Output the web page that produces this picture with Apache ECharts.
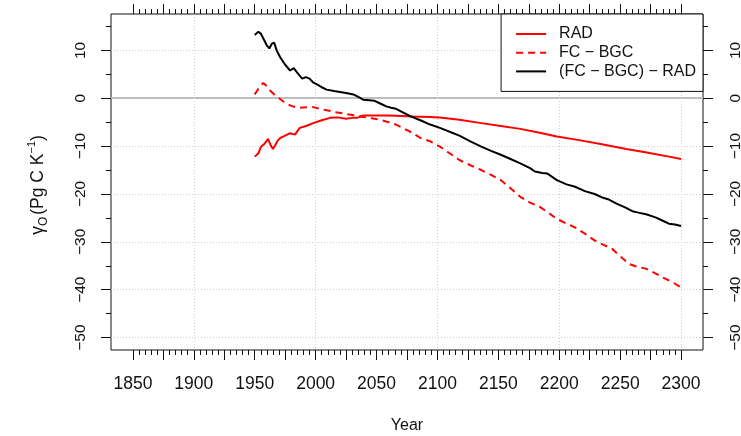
<!DOCTYPE html>
<html>
<head>
<meta charset="utf-8">
<script src="https://cdn.jsdelivr.net/npm/echarts@6/dist/echarts.min.js"></script>
<style>
  html, body { margin: 0; padding: 0; background: #fff; }
  #chart { width: 741px; height: 436px; }
</style>
</head>
<body>
<div id="chart"></div>
<script>
// Ocean carbon-climate feedback parameter, 1950-2300
const radYears = [1950,1953,1955,1958,1961,1963,1965,1967,1969,1971,1975,1979,1983,1987,1992,1998,2005,2012,2018,2025,2030,2034,2039,2046,2053,2060,2070,2080,2094,2102,2118,2136,2152,2168,2184,2198,2215,2235,2255,2273,2290,2300];
const radValues = [-12.2,-11.5,-10.2,-9.5,-8.5,-9.8,-10.6,-9.7,-8.8,-8.3,-7.8,-7.3,-7.6,-6.2,-5.8,-5.2,-4.6,-4.1,-4.0,-4.3,-4.1,-4.1,-3.6,-3.6,-3.6,-3.6,-3.7,-3.8,-3.9,-4.0,-4.5,-5.2,-5.8,-6.4,-7.2,-8.0,-8.7,-9.6,-10.6,-11.4,-12.2,-12.7];

const fcYears = [1950,1953,1957,1960,1963,1966,1970,1975,1980,1986,1992,1997,2003,2009,2016,2023,2030,2039,2046,2053,2060,2066,2073,2080,2086,2094,2102,2110,2118,2127,2136,2144,2152,2160,2168,2176,2184,2191,2198,2206,2213,2221,2229,2236,2243,2250,2257,2264,2271,2279,2287,2294,2300];
const fcValues = [0.8,2.0,3.2,2.5,1.5,0.8,0.0,-1.0,-1.6,-2.0,-1.9,-1.8,-2.2,-2.5,-2.9,-3.2,-3.5,-3.9,-4.2,-4.5,-5.0,-5.5,-6.4,-7.3,-8.3,-9.0,-10.1,-11.5,-12.9,-14.0,-15.0,-16.0,-17.1,-18.8,-20.6,-21.8,-22.7,-23.9,-25.2,-26.2,-27.0,-28.3,-29.7,-30.6,-31.4,-33.0,-34.6,-35.2,-35.6,-36.6,-37.7,-38.6,-39.5];

const diffYears = [1950,1953,1955,1958,1960,1962,1964,1966,1968,1971,1975,1979,1982,1986,1989,1992,1995,1998,2001,2005,2009,2015,2020,2025,2031,2035,2039,2044,2048,2053,2058,2062,2066,2072,2078,2086,2094,2102,2110,2118,2127,2136,2144,2152,2160,2168,2176,2180,2186,2190,2198,2206,2213,2221,2229,2236,2240,2247,2254,2260,2265,2272,2279,2285,2290,2295,2300];
const diffValues = [13.2,13.9,13.5,12.0,11.0,10.4,11.4,11.6,10.0,8.5,7.0,5.8,6.3,5.0,4.1,4.4,4.1,3.3,2.9,2.3,1.8,1.5,1.3,1.1,0.8,0.3,-0.3,-0.4,-0.5,-1.1,-1.7,-2.0,-2.2,-3.0,-3.8,-4.6,-5.5,-6.2,-7.0,-7.8,-9.0,-10.1,-11.0,-11.8,-12.7,-13.6,-14.6,-15.3,-15.6,-15.7,-17.1,-18.0,-18.5,-19.4,-20.0,-20.8,-21.1,-22.0,-22.8,-23.6,-23.9,-24.3,-24.9,-25.6,-26.2,-26.4,-26.7];

const seriesNames = ['RAD', 'FC \u2212 BGC', '(FC \u2212 BGC) \u2212 RAD'];

// Tick positions and labels
const xLabelValues = [1850,1900,1950,2000,2050,2100,2150,2200,2250,2300];
const xMajorTicks = [1850,1875,1900,1925,1950,1975,2000,2025,2050,2075,2100,2125,2150,2175,2200,2225,2250,2275,2300];
const xMinorTicks = [];
for (let y = 1850; y <= 2300; y += 5) xMinorTicks.push(y);
const xGridValues = [1900,2000,2100,2200,2300];
const yLabelValues = [-50,-40,-30,-20,-10,0,10];
const yMinorTicks = [-45,-35,-25,-15,-5,5,15];
const yGridValues = [-50,-40,-30,-20,-10,0,10];

const X_MIN = 1832, X_MAX = 2318, Y_MIN = -52.6, Y_MAX = 17.6;
const FONT = '"Liberation Sans", Arial, Helvetica, sans-serif';

const pairs = (xs, ys) => xs.map((x, i) => [x, ys[i]]);
const fmtY = v => (v < 0 ? '\u2212' + Math.abs(v) : String(v));

function xAxisDef(position, ticks, len, labels) {
  return {
    type: 'value', position, min: X_MIN, max: X_MAX,
    axisLine: { show: false, onZero: false },
    axisTick: { show: true, customValues: ticks, length: len, inside: false,
                lineStyle: { color: '#111', width: 1 } },
    axisLabel: labels ? {
      show: true, customValues: labels, margin: 25, fontSize: 17.5, color: '#111',
      fontFamily: FONT, formatter: v => String(v)
    } : { show: false },
    splitLine: { show: false }
  };
}
function yAxisDef(position, ticks, len, labels, margin) {
  return {
    type: 'value', position, min: Y_MIN, max: Y_MAX,
    axisLine: { show: false, onZero: false },
    axisTick: { show: true, customValues: ticks, length: len, inside: false,
                lineStyle: { color: '#111', width: 1 } },
    axisLabel: labels ? {
      show: true, customValues: labels, rotate: 90, margin, fontSize: 15.5, color: '#111',
      fontFamily: FONT, formatter: fmtY
    } : { show: false },
    splitLine: { show: false }
  };
}

const chart = echarts.init(document.getElementById('chart'), null, { renderer: 'canvas' });

const option = {
  animation: false,
  backgroundColor: '#fff',
  grid: { left: 111, right: 38, top: 14, bottom: 86, show: true,
          containLabel: false, outerBoundsMode: 'none',
          borderColor: '#111', borderWidth: 1, backgroundColor: 'transparent' },
  xAxis: [
    xAxisDef('bottom', xMajorTicks, 10, xLabelValues),
    xAxisDef('bottom', xMinorTicks, 5, null),
    xAxisDef('top', xMajorTicks, 10, null),
    xAxisDef('top', xMinorTicks, 5, null),
    {
      // dotted vertical grid lines
      type: 'value', position: 'bottom', min: X_MIN, max: X_MAX,
      axisLine: { show: false, onZero: false },
      axisTick: { show: false, customValues: xGridValues },
      axisLabel: { show: false },
      splitLine: { show: true, lineStyle: { color: '#cccccc', width: 1, type: [1, 2] } }
    }
  ],
  yAxis: [
    yAxisDef('left', yLabelValues, 10, yLabelValues, 22),
    yAxisDef('left', yMinorTicks, 5, null),
    yAxisDef('right', yLabelValues, 10, yLabelValues, 25),
    yAxisDef('right', yMinorTicks, 5, null),
    {
      // dotted horizontal grid lines
      type: 'value', position: 'left', min: Y_MIN, max: Y_MAX,
      axisLine: { show: false, onZero: false },
      axisTick: { show: false, customValues: yGridValues },
      axisLabel: { show: false },
      splitLine: { show: true, lineStyle: { color: '#cccccc', width: 1, type: [1, 2] } }
    },
    {
      // zero reference line
      type: 'value', position: 'left', min: Y_MIN, max: Y_MAX,
      axisLine: { show: false, onZero: false },
      axisTick: { show: false, customValues: [0] },
      axisLabel: { show: false },
      splitLine: { show: true, lineStyle: { color: '#bebebe', width: 2, type: 'solid' } }
    }
  ],
  legend: {
    orient: 'vertical', right: 38, top: 14,
    padding: [12, 7, 12, 14], itemWidth: 30, itemHeight: 14, itemGap: 2.7,
    borderColor: '#111', borderWidth: 1, backgroundColor: '#fff',
    selectedMode: false,
    itemStyle: { opacity: 0 },
    textStyle: { fontSize: 16, color: '#111', fontFamily: FONT, padding: [0, 0, 0, 8] },
    data: seriesNames
  },
  series: [
    { name: seriesNames[0], type: 'line', xAxisIndex: 0, yAxisIndex: 0,
      data: pairs(radYears, radValues), symbol: 'none', showSymbol: false,
      lineStyle: { color: '#ff0000', width: 2 }, itemStyle: { color: '#ff0000' } },
    { name: seriesNames[1], type: 'line', xAxisIndex: 0, yAxisIndex: 0,
      data: pairs(fcYears, fcValues), symbol: 'none', showSymbol: false,
      lineStyle: { color: '#ff0000', width: 2, type: [7, 5] }, itemStyle: { color: '#ff0000' } },
    { name: seriesNames[2], type: 'line', xAxisIndex: 0, yAxisIndex: 0,
      data: pairs(diffYears, diffValues), symbol: 'none', showSymbol: false,
      lineStyle: { color: '#000', width: 2 }, itemStyle: { color: '#000' } }
  ],
  graphic: [
    { type: 'text', x: 407, y: 426,
      style: { text: 'Year', fill: '#111', font: '16px ' + FONT, align: 'center', verticalAlign: 'middle' } },
    { type: 'text', x: 38, y: 185, rotation: Math.PI / 2,
      style: {
        text: '{n|\u03b3}{s|O}{n|(Pg C K}{p|\u22121}{n|)}',
        fill: '#111', align: 'center', verticalAlign: 'middle',
        rich: {
          n: { fontSize: 17.5, fontFamily: FONT, fill: '#111', lineHeight: 24, verticalAlign: 'middle' },
          s: { fontSize: 12, fontFamily: FONT, fill: '#111', lineHeight: 16, verticalAlign: 'bottom', padding: [0, 2, 0, 0] },
          p: { fontSize: 11, fontFamily: FONT, fill: '#111', lineHeight: 14, verticalAlign: 'top' }
        }
      } }
  ]
};
chart.setOption(option);
</script>
</body>
</html>
